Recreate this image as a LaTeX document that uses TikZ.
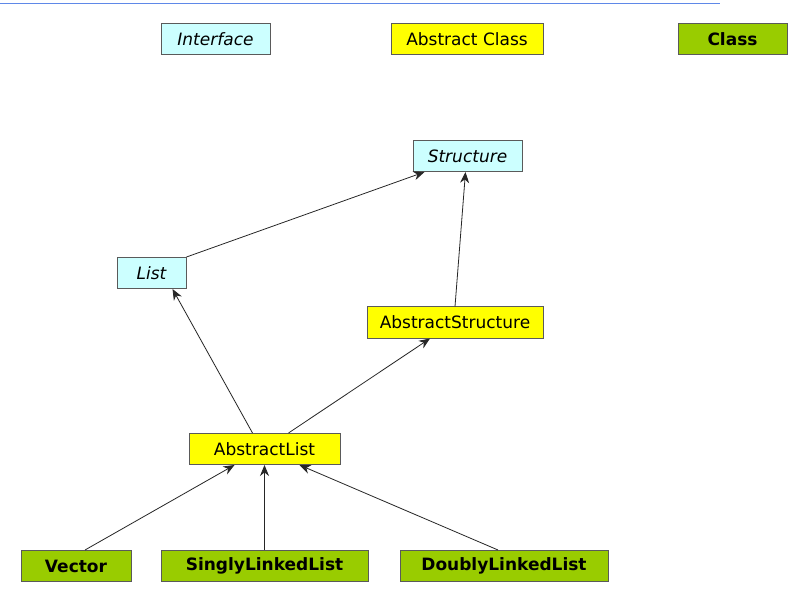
\documentclass[tikz,border=0pt]{standalone}
\usepackage{fontspec}
\setmainfont{DejaVu Sans}
\usetikzlibrary{arrows.meta,calc}
\definecolor{ifc}{HTML}{CCFFFF}
\definecolor{absc}{HTML}{FFFF00}
\definecolor{clsc}{HTML}{99CC00}
\definecolor{bordc}{HTML}{5A5A5A}
\definecolor{topline}{HTML}{5F88E8}
\tikzset{
  box/.style={draw=bordc, line width=1pt, inner sep=0pt, minimum height=31pt, font=\fontsize{17}{20}\selectfont},
  iface/.style={box, fill=ifc, font=\fontsize{17}{20}\selectfont\itshape},
  absbox/.style={box, fill=absc},
  clsbox/.style={box, fill=clsc, font=\fontsize{17}{20}\selectfont\bfseries},
  inh/.style={draw=black!85, line width=0.8pt, -{Stealth[length=11pt,width=9pt]}}
}
\begin{document}
\begin{tikzpicture}[x=1pt,y=-1pt]
\useasboundingbox (0,0) rectangle (797,593);
\fill[white] (0,0) rectangle (797,593);
\draw[topline, line width=1.5pt] (0,3.5) -- (720,3.5);
% legend
\node[iface, minimum width=109pt] (lgi) at (215.5,39.5) {Interface};
\node[absbox, minimum width=152pt] (lga) at (467,39.5) {Abstract Class};
\node[clsbox, minimum width=109pt] (lgc) at (732.5,39.5) {Class};
% hierarchy
\node[iface, minimum width=109pt] (str) at (467.5,156) {Structure};
\node[iface, minimum width=69pt] (list) at (151.5,273) {List};
\node[absbox, minimum width=176pt] (astr) at (455,322.5) {AbstractStructure};
\node[absbox, minimum width=151pt] (alist) at (264.5,449) {AbstractList};
\node[clsbox, minimum width=110pt] (vec) at (76,566) {Vector};
\node[clsbox, minimum width=207pt] (sll) at (264.5,566) {SinglyLinkedList};
\node[clsbox, minimum width=208pt] (dll) at (504,566) {DoublyLinkedList};
% connectors
\draw[inh] (list.north east) -- ($(str.south west)+(12,0)$);
\draw[inh] (astr.north) -- ($(str.south)+(-2,0)$);
\draw[inh] ($(alist.north)+(-12,0)$) -- ($(list.south)+(21,0)$);
\draw[inh] ($(alist.north)+(24,0)$) -- ($(astr.south)+(-25,0)$);
\draw[inh] ($(vec.north)+(9,0)$) -- ($(alist.south)+(-30,0)$);
\draw[inh] (sll.north) -- (alist.south);
\draw[inh] ($(dll.north)+(-6,0)$) -- ($(alist.south)+(35,0)$);
\end{tikzpicture}
\end{document}
